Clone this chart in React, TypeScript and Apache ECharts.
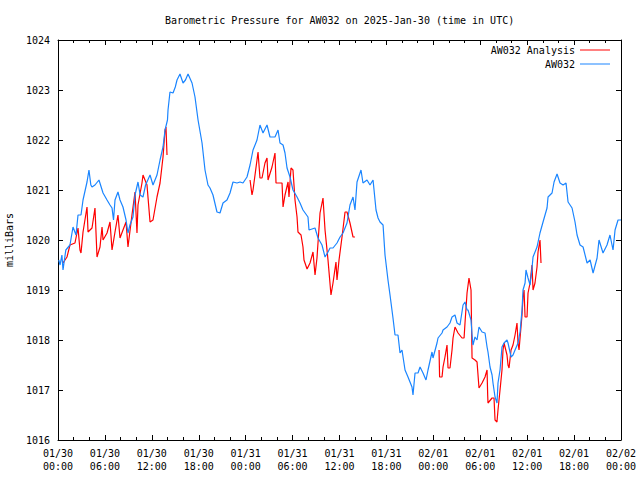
import React, { useEffect, useRef } from "react";
import * as echarts from "echarts";

const titleText = "Barometric Pressure for AW032 on 2025-Jan-30 (time in UTC)";
const yAxisName = "milliBars";
const seriesNames = ["AW032 Analysis", "AW032"];
const seriesColors = ["#ff0000", "#1a85ff"];

const tickDates = ["01/30", "01/30", "01/30", "01/30", "01/31", "01/31", "01/31", "01/31", "02/01", "02/01", "02/01", "02/01", "02/02"];
const tickTimes = ["00:00", "06:00", "12:00", "18:00", "00:00", "06:00", "12:00", "18:00", "00:00", "06:00", "12:00", "18:00", "00:00"];

// hours since 2025-01-30 00:00 UTC
const stationHours = [
  0.1, 0.26, 0.5, 0.64, 1.0, 1.53, 1.92, 2.3, 2.56, 2.94, 3.2, 3.71, 3.96, 4.2, 4.35, 4.73, 5.24, 5.76, 6.27, 6.65,
  6.91, 7.1, 7.29, 7.67, 7.93, 8.31, 8.7, 8.95, 9.2, 9.59, 9.85, 10.23, 10.5, 10.87, 11.2, 11.77, 12.15, 12.66, 13.05, 13.43,
  13.69, 14.0, 14.07, 14.32, 14.71, 15.0, 15.22, 15.6, 15.99, 16.3, 16.63, 17.14, 17.52, 17.91, 18.42, 18.8, 19.18, 19.44, 19.82, 20.33,
  20.72, 21.1, 21.61, 22.0, 22.38, 22.89, 23.28, 23.66, 24.17, 24.56, 24.94, 25.45, 25.83, 26.22, 26.73, 27.11, 27.75, 28.14, 28.39, 28.78,
  29.03, 29.29, 29.67, 30.05, 30.57, 30.95, 31.33, 31.97, 32.1, 32.87, 33.25, 33.76, 34.15, 34.53, 34.79, 35.17, 35.68, 36.07, 36.45, 36.96,
  37.34, 37.73, 37.98, 38.24, 38.75, 39.0, 39.52, 39.9, 40.29, 40.67, 40.93, 41.18, 41.57, 41.82, 42.2, 42.46, 42.84, 43.1, 43.48, 43.74,
  43.99, 44.38, 44.76, 45.27, 45.4, 45.66, 46.04, 46.3, 46.68, 47.06, 47.32, 47.83, 47.96, 48.47, 48.6, 49.11, 49.24, 49.75, 50.13, 50.39,
  50.77, 51.03, 51.41, 51.8, 52.05, 52.31, 52.44, 52.82, 52.95, 53.07, 53.33, 53.59, 53.84, 54.23, 54.61, 54.87, 54.99, 55.25, 55.51, 55.63,
  55.89, 56.14, 56.27, 56.53, 56.78, 57.04, 57.42, 57.55, 57.94, 58.19, 58.45, 58.83, 59.09, 59.34, 59.47, 59.73, 59.85, 60.11, 60.37, 60.6,
  60.75, 61.26, 61.64, 62.03, 62.54, 62.67, 63.18, 63.44, 63.82, 64.2, 64.59, 64.97, 65.23, 65.74, 66.12, 66.38, 66.76, 67.15, 67.66, 68.05,
  68.43, 68.94, 69.19, 69.7, 70.21, 70.59, 70.98, 71.24, 71.62, 72.0,
];
const stationValues = [
  1019.6, 1019.5, 1019.7, 1019.4, 1019.8, 1019.9, 1020.26, 1020.1, 1020.5, 1020.5, 1020.8, 1021.16, 1021.4, 1021.1, 1021.06, 1021.1, 1021.2, 1020.94, 1020.8, 1020.7,
  1020.64, 1020.4, 1020.8, 1020.96, 1020.8, 1020.66, 1020.4, 1020.14, 1020.3, 1020.46, 1020.9, 1021.16, 1020.9, 1020.86, 1021.1, 1021.3, 1021.1, 1021.3, 1021.6, 1021.86,
  1022.2, 1022.4, 1022.6, 1022.96, 1022.94, 1023.06, 1023.2, 1023.32, 1023.14, 1023.2, 1023.32, 1023.14, 1022.86, 1022.4, 1021.94, 1021.4, 1021.1, 1021.04, 1020.9, 1020.56,
  1020.54, 1020.74, 1020.8, 1020.94, 1021.16, 1021.14, 1021.16, 1021.14, 1021.26, 1021.5, 1021.8, 1022.0, 1022.3, 1022.14, 1022.3, 1022.06, 1022.06, 1022.2, 1021.94, 1021.9,
  1021.74, 1021.44, 1021.26, 1021.0, 1020.86, 1020.74, 1020.6, 1020.46, 1020.2, 1020.24, 1020.04, 1019.9, 1019.66, 1019.76, 1019.84, 1019.84, 1019.94, 1020.06, 1020.14, 1020.34,
  1020.7, 1020.86, 1020.6, 1021.16, 1021.4, 1021.14, 1021.2, 1021.1, 1021.2, 1020.6, 1020.44, 1020.36, 1020.3, 1019.7, 1019.2, 1018.9, 1018.44, 1018.1, 1018.1, 1017.74,
  1017.8, 1017.4, 1017.26, 1017.06, 1016.9, 1017.34, 1017.34, 1017.46, 1017.34, 1017.2, 1017.4, 1017.76, 1017.64, 1017.94, 1018.04, 1018.14, 1018.2, 1018.26, 1018.34, 1018.46,
  1018.5, 1018.34, 1018.3, 1018.7, 1018.76, 1018.6, 1018.6, 1018.4, 1018.1, 1017.9, 1018.06, 1018.0, 1018.26, 1018.16, 1018.14, 1017.86, 1017.76, 1017.46, 1017.3, 1017.14,
  1016.86, 1016.74, 1017.14, 1017.4, 1017.86, 1017.94, 1018.0, 1017.94, 1017.66, 1017.7, 1017.8, 1017.94, 1018.16, 1018.6, 1019.0, 1019.14, 1019.4, 1019.24, 1019.1, 1019.4,
  1019.66, 1019.86, 1020.14, 1020.36, 1020.64, 1020.86, 1020.94, 1021.16, 1021.32, 1021.14, 1021.1, 1021.14, 1020.76, 1020.64, 1020.36, 1020.1, 1019.9, 1019.86, 1019.54, 1019.6,
  1019.34, 1019.64, 1020.0, 1019.74, 1019.9, 1020.1, 1019.8, 1020.2, 1020.4, 1020.4,
];

const analysisHours = [
  0.64, 1.15, 1.53, 2.17, 2.56, 2.81, 2.94, 3.2, 3.71, 3.84, 4.35, 4.73, 4.99, 5.37, 5.63, 5.76, 6.27, 6.65, 6.91, 7.29,
  7.67, 7.93, 8.31, 8.7, 8.95, 9.46, 9.85, 10.1, 10.23, 10.74, 10.87, 11.38, 11.77, 12.15, 12.66, 13.05, 13.43, 13.69, 13.81, 13.94,
  14.5,
  24.56, 24.81, 24.94, 25.45, 25.58, 25.83, 26.09, 26.47, 26.73, 26.86, 27.37, 27.75, 27.88, 28.39, 28.65, 28.78, 29.03, 29.42, 29.54, 29.8,
  30.05, 30.31, 30.57, 30.69, 31.08, 31.33, 31.46, 31.85, 32.23, 32.61, 32.87, 33.12, 33.51, 33.89, 34.15, 34.53, 34.91, 35.17, 35.55, 35.68,
  35.94, 36.32, 36.71, 36.96, 37.34, 37.73, 37.98,
  38.5,
  48.73, 48.8, 49.11, 49.24, 49.49, 49.75, 49.88, 50.13, 50.39, 50.52, 50.77, 51.16, 51.67, 51.93, 52.05, 52.31, 52.56, 52.82, 52.95, 53.33,
  53.59, 53.84, 54.23, 54.61, 54.87, 54.95, 54.99, 55.51, 55.76, 55.89, 56.14, 56.27, 56.53, 56.78, 56.91, 57.04, 57.17, 57.42, 57.55, 57.68,
  57.94, 58.19, 58.45, 58.7, 58.83, 58.96, 59.21, 59.34, 59.47, 59.6, 59.73, 59.98, 60.11, 60.37, 60.62, 60.75, 61.0, 61.26, 61.39, 61.64,
  61.77,
];
const analysisValues = [
  1019.54, 1019.66, 1019.9, 1019.94, 1020.24, 1019.8, 1019.74, 1020.16, 1020.66, 1020.16, 1020.24, 1020.64, 1019.66, 1019.86, 1020.26, 1020.0, 1020.14, 1020.36, 1019.8, 1020.16,
  1020.5, 1020.04, 1020.2, 1020.36, 1019.86, 1020.5, 1020.96, 1020.14, 1020.7, 1021.14, 1021.3, 1021.1, 1020.36, 1020.4, 1020.86, 1021.14, 1021.66, 1022.2, 1022.26, 1021.7,
  null,
  1021.2, 1020.9, 1021.0, 1021.6, 1021.76, 1021.24, 1021.24, 1021.54, 1021.64, 1021.2, 1021.46, 1021.74, 1021.14, 1021.14, 1021.14, 1020.66, 1020.9, 1021.16, 1020.86, 1021.44,
  1021.4, 1020.8, 1020.46, 1020.16, 1020.1, 1019.86, 1019.6, 1019.42, 1019.54, 1019.76, 1019.3, 1019.64, 1020.54, 1020.84, 1020.2, 1019.6, 1018.9, 1019.14, 1019.56, 1019.2,
  1019.6, 1020.06, 1020.56, 1020.56, 1020.34, 1020.06, 1020.06,
  null,
  1017.8, 1017.26, 1017.26, 1017.46, 1017.66, 1017.9, 1017.44, 1017.44, 1017.8, 1018.04, 1018.26, 1018.14, 1018.04, 1018.04, 1018.34, 1018.94, 1019.24, 1019.0, 1017.64, 1017.6,
  1017.56, 1017.04, 1017.14, 1017.26, 1017.4, 1016.9, 1016.74, 1016.84, 1016.84, 1016.4, 1016.36, 1016.6, 1017.0, 1017.4, 1017.8, 1017.94, 1017.86, 1017.7, 1017.5, 1017.44,
  1017.8, 1017.9, 1018.1, 1018.34, 1017.94, 1017.8, 1018.26, 1018.5, 1018.86, 1019.0, 1018.46, 1018.46, 1018.94, 1019.14, 1019.5, 1019.0, 1019.14, 1019.46, 1019.76, 1020.0,
  1019.54,
];

const FONT = "'DejaVu Sans Mono', 'Liberation Mono', monospace";

function xAxisDef(position: "bottom" | "top", showLabels: boolean) {
  return {
    type: "value",
    position,
    min: 0,
    max: 72,
    interval: 6,
    axisLine: { show: true, onZero: false, lineStyle: { color: "#000", width: 1 } },
    axisTick: { show: true, inside: true, length: 5, lineStyle: { color: "#000", width: 1 } },
    minorTick: { show: true, splitNumber: 3, length: 3, lineStyle: { color: "#000", width: 1 } },
    splitLine: { show: false },
    minorSplitLine: { show: false },
    axisLabel: {
      show: showLabels,
      margin: 7,
      color: "#000",
      fontFamily: FONT,
      fontSize: 10,
      lineHeight: 13,
      formatter: (v: number) => {
        const i = Math.round(v / 6);
        return tickDates[i] + "\n" + tickTimes[i];
      },
    },
  };
}

function yAxisDef(position: "left" | "right", showLabels: boolean) {
  return {
    type: "value",
    position,
    min: 1016,
    max: 1024,
    interval: 1,
    name: showLabels ? yAxisName : "",
    nameLocation: "middle",
    nameRotate: 90,
    nameGap: 44,
    nameTextStyle: { color: "#000", fontFamily: FONT, fontSize: 10 },
    axisLine: { show: true, onZero: false, lineStyle: { color: "#000", width: 1 } },
    axisTick: { show: true, inside: true, length: 5, lineStyle: { color: "#000", width: 1 } },
    splitLine: { show: false },
    axisLabel: {
      show: showLabels,
      margin: 8,
      color: "#000",
      fontFamily: FONT,
      fontSize: 10,
      formatter: (v: number) => String(v),
    },
  };
}

export default function App() {
  const ref = useRef<HTMLDivElement>(null);
  useEffect(() => {
    if (!ref.current) return;
    const chart = echarts.init(ref.current, undefined, { renderer: "svg" });
    const analysisData = analysisHours.map((h, i) => [h, analysisValues[i]]);
    const stationData = stationHours.map((h, i) => [h, stationValues[i]]);
    const legendCommon = {
      right: 30,
      align: "right",
      padding: 0,
      itemWidth: 30,
      itemHeight: 1,
      selectedMode: false,
      textStyle: { color: "#000", fontFamily: FONT, fontSize: 10 },
    };
    chart.setOption({
      animation: false,
      backgroundColor: "#fff",
      title: {
        text: titleText,
        left: 165,
        top: 15,
        padding: 0,
        textStyle: { color: "#000", fontFamily: FONT, fontSize: 10, fontWeight: "normal" },
      },
      grid: { left: 58, right: 19, top: 40, bottom: 40, containLabel: false, outerBoundsMode: "none" },
      legend: [
        { ...legendCommon, top: 45, data: [{ name: seriesNames[0], icon: "rect" }] },
        { ...legendCommon, top: 59, data: [{ name: seriesNames[1], icon: "rect" }] },
      ],
      xAxis: [xAxisDef("bottom", true), xAxisDef("top", false)],
      yAxis: [yAxisDef("left", true), yAxisDef("right", false)],
      series: [
        {
          name: seriesNames[0],
          type: "line",
          xAxisIndex: 0,
          yAxisIndex: 0,
          data: analysisData,
          showSymbol: false,
          connectNulls: false,
          color: seriesColors[0],
          lineStyle: { color: seriesColors[0], width: 1.2 },
        },
        {
          name: seriesNames[1],
          type: "line",
          xAxisIndex: 0,
          yAxisIndex: 0,
          data: stationData,
          showSymbol: false,
          connectNulls: false,
          color: seriesColors[1],
          lineStyle: { color: seriesColors[1], width: 1.2 },
        },
      ],
    });
    return () => chart.dispose();
  }, []);
  return <div ref={ref} style={{ width: 640, height: 480, position: "absolute", left: 0, top: 0 }} />;
}
